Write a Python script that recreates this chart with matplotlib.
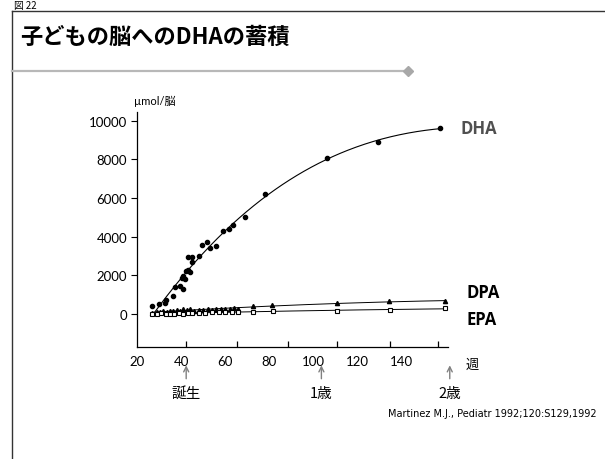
import numpy as np
import matplotlib
matplotlib.use("Agg")
from matplotlib import pyplot as plt

plt.rcParams['font.family'] = ['Lato', 'Noto Sans CJK JP', 'DejaVu Sans']

# ---- data (weeks, umol per brain) ----
dha_week = [27.0, 30.0, 32.7, 33.3, 36.4, 37.3, 39.4, 40.9, 40.3, 40.9, 41.8, 42.1, 43.3, 44.2,
            43.0, 44.9, 44.9, 48.2, 49.4, 51.8, 53.0, 56.0, 58.8, 61.5, 63.6, 69.1, 78.2,
            106.0, 129.3, 157.3]
dha_val = [430, 520, 570, 720, 950, 1380, 1460, 1290, 1850, 1980, 1810, 2240, 2290, 2190,
           2930, 2930, 2700, 2980, 3570, 3740, 3400, 3530, 4300, 4390, 4600, 5010, 6190,
           8060, 8900, 9610]

dpa_week = [27, 29, 30.5, 32, 33.5, 35, 36.5, 38, 39.5, 41, 42.5, 44, 46, 48, 50, 52, 54,
            56, 58, 60, 62, 64, 66, 72.4, 81.2, 110.6, 134.2, 159.5]
dpa_val = [60, 120, 90, 150, 110, 180, 140, 220, 160, 260, 200, 240, 180, 230, 210, 250, 220,
           260, 240, 280, 250, 300, 280, 400, 470, 590, 670, 650]

epa_week = [27, 29, 31, 33, 35, 37, 39, 41, 43, 45, 48, 51, 54, 57, 60, 63, 66,
            72.7, 81.5, 110.6, 134.5, 159.5]
epa_val = [20, 10, 40, 0, 10, 0, 30, 20, 60, 40, 70, 60, 90, 100, 110, 120, 130,
           90, 150, 170, 210, 290]

x_ticks = [20, 40, 60, 80, 100, 120, 140]
y_ticks = [0, 2000, 4000, 6000, 8000, 10000]
mark_ticks = [42.3, 65.5, 88.6, 110.9, 134.5, 156.4]
age_pos = [42.3, 103.6, 161.8]
age_labels = ['誕生', '1歳', '2歳']

fig = plt.figure(figsize=(6.05, 4.6), dpi=100)

# slide frame
fig.add_artist(plt.Line2D([12/605, 1], [1-12/460, 1-12/460], color='#333333', lw=1.0))
fig.add_artist(plt.Line2D([12/605, 12/605], [0, 1-12/460], color='#333333', lw=1.0))
fig.text(14/605, 1-1/460, '図 22', fontsize=7, va='top', family=['Noto Sans CJK JP'])
fig.text(20/605, 1-37/460, '子どもの脳へのDHAの蓄積', fontsize=16, fontweight='bold',
         va='center', family=['Noto Sans CJK JP'])
fig.add_artist(plt.Line2D([12/605, 405/605], [1-72/460, 1-72/460], color='#b8b8b8', lw=1.6))
fig.add_artist(plt.Line2D([408/605], [1-72/460], color='#a8a8a8', marker='D', markersize=5,
                          lw=0))

ax = fig.add_axes([137/605, 1-348/460, 311/605, 235/460])
ax.set_xlim(20, 161)
ax.set_ylim(-1705, 10443)
for s in ['top', 'right']:
    ax.spines[s].set_visible(False)
ax.spines['left'].set_linewidth(0.9)
ax.spines['bottom'].set_linewidth(0.9)

# fitted curves
fw = np.linspace(27, 157.3, 200)
c = np.polyfit(dha_week, dha_val, 3)
ax.plot(fw, np.polyval(c, fw), color='black', lw=0.8)
fw2 = np.linspace(27, 160, 200)
c2 = np.polyfit(dpa_week, dpa_val, 2)
ax.plot(fw2, np.polyval(c2, fw2), color='black', lw=0.7)
c3 = np.polyfit(epa_week, epa_val, 2)
ax.plot(fw2, np.polyval(c3, fw2), color='black', lw=0.7)

ax.plot(dha_week, dha_val, 'o', color='black', markersize=3)
ax.plot(dpa_week, dpa_val, '^', color='black', markersize=3)
ax.plot(epa_week, epa_val, 's', markerfacecolor='white', markeredgecolor='black',
        markersize=3, markeredgewidth=0.8)

ax.set_yticks(y_ticks)
ax.tick_params(axis='y', direction='out', length=4, labelsize=9.5, pad=3)
ax.set_xticks(x_ticks)
ax.tick_params(axis='x', which='major', length=0, labelsize=9.5, pad=6)
ax.set_xticks(mark_ticks, minor=True)
ax.tick_params(axis='x', which='minor', direction='in', length=4, width=0.9)

ax.text(-0.01, 1.025, 'µmol/脳', transform=ax.transAxes, fontsize=8, ha='left', va='bottom')
ax.text(1.055, -0.045, '週', transform=ax.transAxes, fontsize=9.5, ha='left', va='top')

ax.text(1.04, dha_val[-1], 'DHA', transform=ax.get_yaxis_transform(), fontsize=12,
        fontweight='bold', color='#505050', va='center', family=['Open Sans'])
ax.text(1.06, 1140, 'DPA', transform=ax.get_yaxis_transform(), fontsize=12,
        fontweight='bold', va='center', family=['Open Sans'])
ax.text(1.06, -260, 'EPA', transform=ax.get_yaxis_transform(), fontsize=12,
        fontweight='bold', va='center', family=['Open Sans'])

for p, lab in zip(age_pos, age_labels):
    ax.annotate('', xy=(p, -0.078), xytext=(p, -0.135), xycoords=('data', 'axes fraction'),
                annotation_clip=False,
                arrowprops=dict(arrowstyle='->', color='#808080', lw=1.0, mutation_scale=9,
                                shrinkA=0, shrinkB=0))
    ax.text(p, -0.195, lab, transform=ax.get_xaxis_transform(), fontsize=10.5, ha='center',
            va='center', family=['Noto Sans CJK JP'])

fig.text(597/605, 1-414/460, 'Martinez M.J., Pediatr 1992;120:S129,1992', fontsize=7,
         ha='right', va='center', family=['DejaVu Sans'])

plt.savefig('out.png', dpi=100)
